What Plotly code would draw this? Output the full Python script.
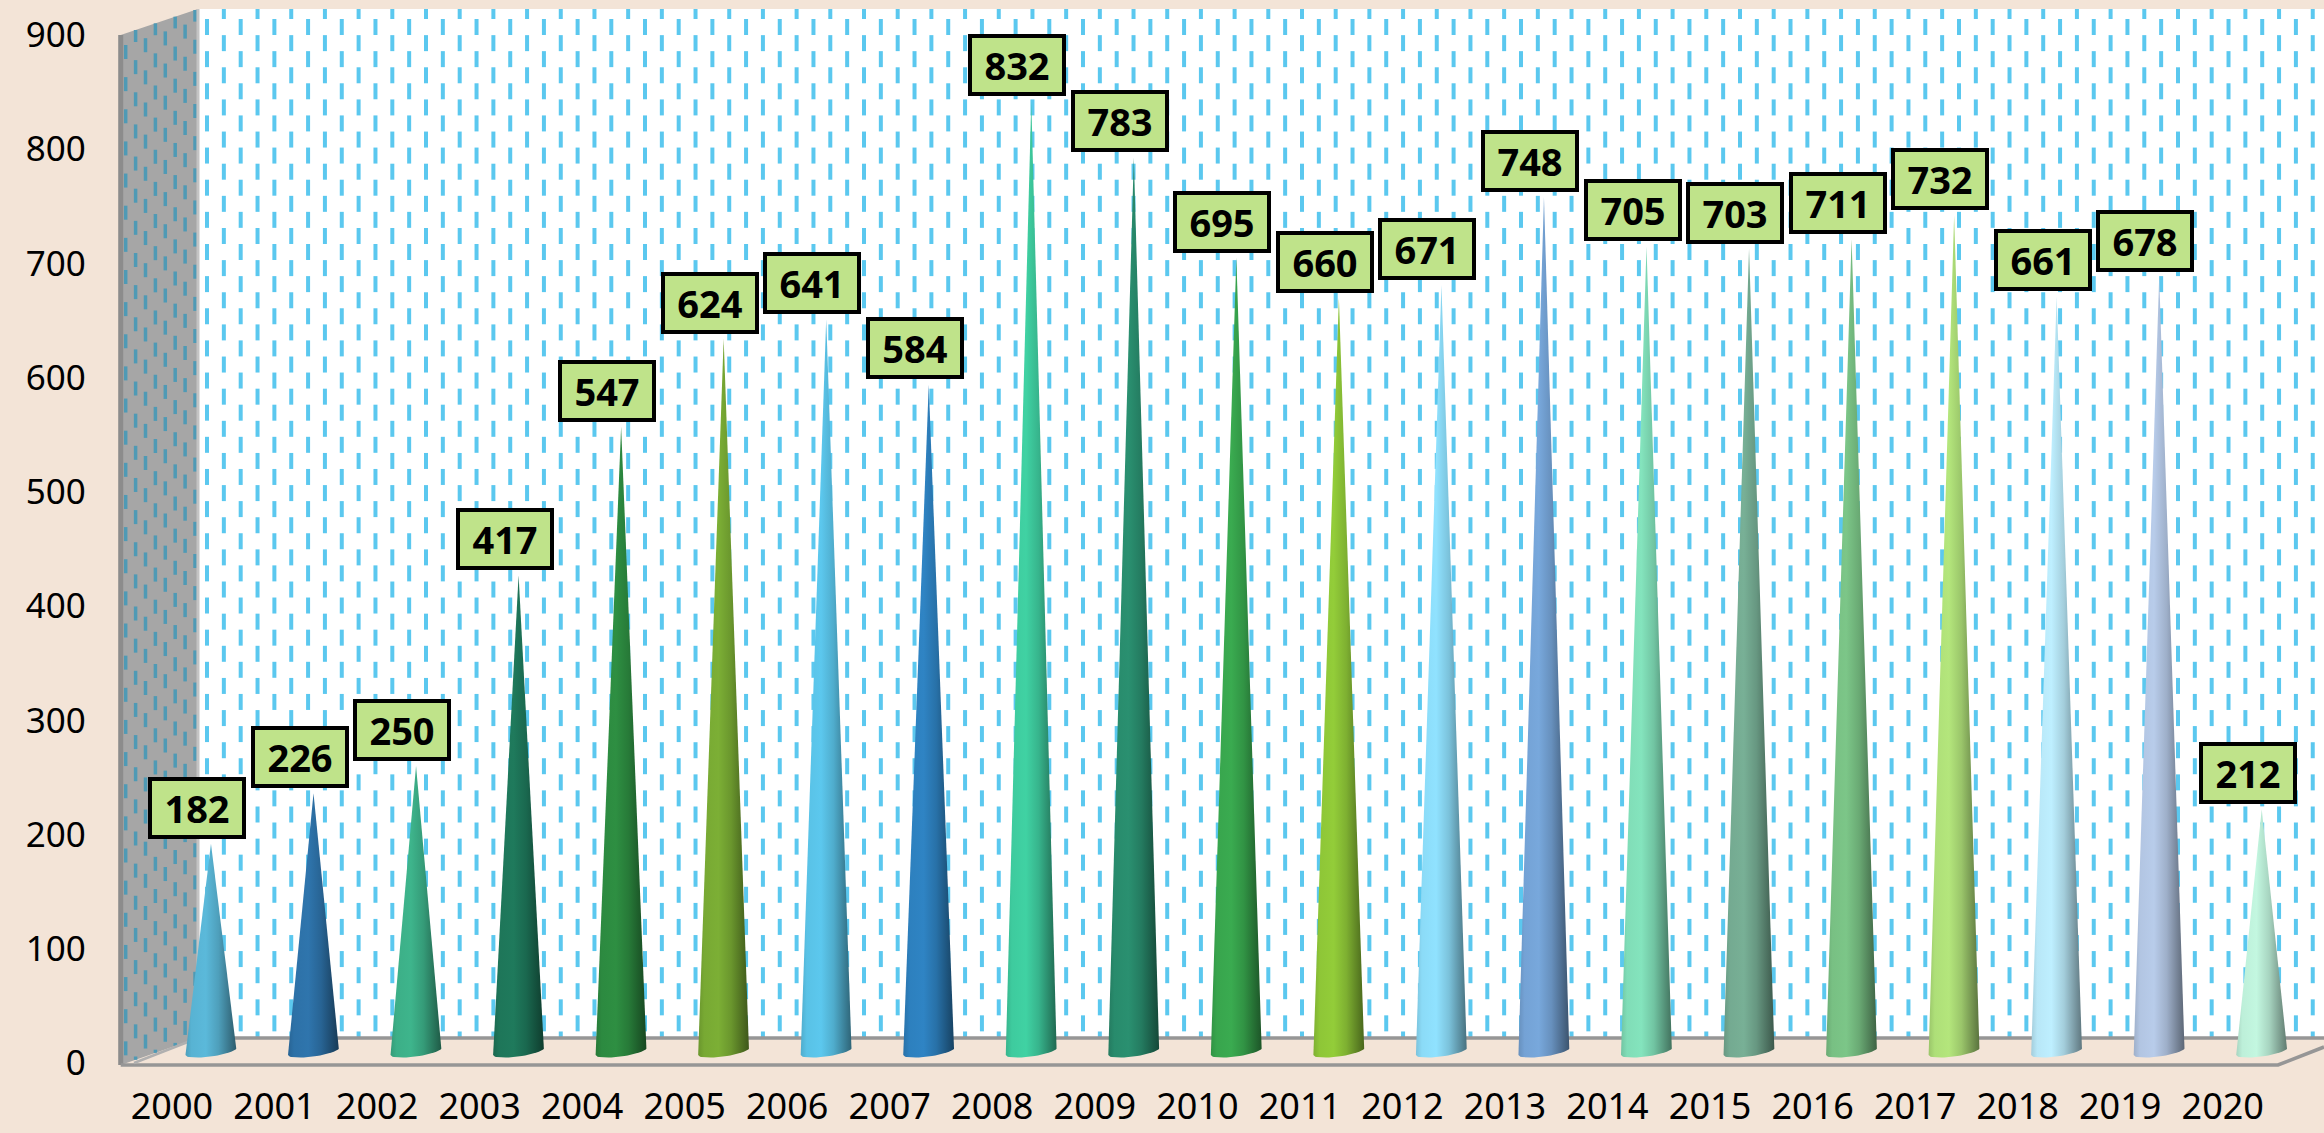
import numpy as np
import plotly.graph_objects as go

W, H = 2324, 1133

years = [str(y) for y in range(2000, 2021)]
values = [182, 226, 250, 417, 547, 624, 641, 584, 832, 783, 695, 660, 671, 748, 705, 703, 711, 732, 661, 678, 212]
cone_colors = ["#5BB9DA", "#2F75AD", "#3EB58C", "#1F7A5C", "#2E8F42", "#7CAF35", "#5CC8EE",
               "#2F84C4", "#40D2A3", "#2A9070", "#3AAB50", "#93CD39", "#90E2FF", "#78A8DC",
               "#84E4BD", "#78B096", "#7CC688", "#B4E67C", "#BEEFFF", "#B8CCEA", "#C3F7E0"]
y_ticks = list(range(0, 1000, 100))

BG = "#F3E4D7"
DASH_BACK = "#5BC8EF"
DASH_SIDE = "#4F9AB5"
WALL_SIDE = "#A6A6A6"
EDGE = "#969696"
LABEL_FILL = "#BFE38A"

# plot-box geometry, page pixels
FL, FR, FT, FB = 120.7, 2274.0, 35.0, 1063.0      # front plane
DX_MID, DY_MID = 39.0, 11.5                        # depth shift of the cones
BL, BT, BB = 198.0, 9.0, 1038.0                    # back wall

def dom_x(a, b): return [a / W, b / W]
def dom_y(t, b): return [1 - b / H, 1 - t / H]

def shade(hexc, f):
    r, g, b = int(hexc[1:3], 16), int(hexc[3:5], 16), int(hexc[5:7], 16)
    return f"rgb({int(r*f)},{int(g*f)},{int(b*f)})"

fig = go.Figure()

# ---- page-pixel subplot: walls and their dashed texture ----
def poly(xs, ys, color):
    fig.add_trace(go.Scatter(x=xs, y=ys, mode="lines", fill="toself", fillcolor=color,
                             line=dict(width=0), hoverinfo="skip", showlegend=False))

def edge(xs, ys, color=EDGE, width=3.5):
    fig.add_trace(go.Scatter(x=xs, y=ys, mode="lines", line=dict(color=color, width=width),
                             hoverinfo="skip", showlegend=False))

poly([BL, W, W, BL], [BT, BT, BB, BB], "#FFFFFF")
poly([FL, BL, BL, FL], [FT, BT, BB, FB + 2], WALL_SIDE)

# back wall texture
sx, sy = [], []
for k in range(0, 127):
    x = 207.0 + 16.846 * k
    phase = 27.0 if k % 2 == 0 else 11.0
    for j in range(-1, 34):
        c = phase + 32.14 * j
        a, b = max(c - 8, BT), min(c + 8, BB)
        if a < b and x < W:
            sx += [x, x, None]; sy += [a, b, None]
fig.add_trace(go.Scatter(x=sx, y=sy, mode="lines", line=dict(color=DASH_BACK, width=4),
                         hoverinfo="skip", showlegend=False))

# side wall texture
sx, sy = [], []
for i in range(8):
    x = 125.7 + 9.9 * i
    phase = (52.0 if i % 2 == 0 else 38.4) - 3.4 * i
    top = FT - (x - FL) * (FT - BT) / (BL - FL)
    bot = FB + 2 - (x - FL) * (FB + 2 - BB) / (BL - FL)
    for j in range(-2, 34):
        c = phase + 32.14 * j
        a, b = max(c - 7, top), min(c + 7, bot)
        if a < b:
            sx += [x, x, None]; sy += [a, b, None]
fig.add_trace(go.Scatter(x=sx, y=sy, mode="lines", line=dict(color=DASH_SIDE, width=3.5),
                         hoverinfo="skip", showlegend=False))

# frame edges
edge([BL, W], [BB, BB])
edge([BL, BL], [BT, BB], "#C4C4C4", 3)
edge([FL, FL], [FT, FB + 2], "#8C8C8C", 5)
edge([FL, 2278, W], [FB + 2, FB + 2, 1047])
edge([134, BL], [FB, BB], "#B0B0B0", 2.5)

# ---- cones, on the mid-depth plane ----
w = 0.2487                    # half base width, in categories
px_per_unit = (FB - FT) / 900.0
tilt = 3.5 / px_per_unit      # ellipse tilt, value units
minor = 5.0 / px_per_unit     # ellipse depth, value units
t = np.linspace(0, np.pi, 25)
for i, (val, col) in enumerate(zip(values, cone_colors)):
    xs = [i] + list(i + w * np.cos(t)) + [i]
    ys = [val] + list(tilt * np.cos(t) - minor * np.sin(t)) + [val]
    fig.add_trace(go.Scatter(
        x=xs, y=ys, xaxis="x3", yaxis="y3", mode="lines", fill="toself",
        line=dict(width=0),
        fillgradient=dict(type="horizontal", colorscale=[
            [0, shade(col, 0.86)], [0.12, shade(col, 0.97)], [0.4, col],
            [0.65, shade(col, 0.86)], [1, shade(col, 0.5)]]),
        name=years[i], hovertemplate=f"{years[i]}: {val}<extra></extra>", showlegend=False))

# data labels
annotations = [dict(x=i, y=v, xref="x3", yref="y3", text=f"<b>{v}</b>", showarrow=False,
                    xshift=-14, yshift=36, width=90, height=54, align="center", valign="middle",
                    bgcolor=LABEL_FILL, bordercolor="#000000", borderwidth=4, borderpad=0,
                    font=dict(family="Noto Sans", size=38, color="#000000"))
               for i, v in enumerate(values)]

# front-plane axes (hold the real categories/value scale)
fig.add_trace(go.Scatter(x=years, y=values, xaxis="x2", yaxis="y2", mode="markers",
                         marker=dict(opacity=0, size=1), hoverinfo="skip", showlegend=False))

y_range = [0, 900]
below = 30  # room under zero on the cone plane so the round bases are not clipped
fig.update_layout(
    width=W, height=H, margin=dict(l=0, r=0, t=0, b=0), autosize=False,
    paper_bgcolor=BG, plot_bgcolor="rgba(0,0,0,0)", showlegend=False,
    font=dict(family="Noto Sans", color="#000000"),
    xaxis=dict(domain=[0, 1], range=[0, W], visible=False, fixedrange=True, automargin=False),
    yaxis=dict(domain=[0, 1], range=[H, 0], visible=False, fixedrange=True, automargin=False),
    xaxis2=dict(domain=dom_x(FL, FR), anchor="y2", type="category", categoryorder="array",
                categoryarray=years, range=[-0.5, 20.5], showgrid=False, zeroline=False,
                showline=False, ticks="", tickfont=dict(size=36, color="#000000"),
                tickangle=0, ticklabelstandoff=19, fixedrange=True, automargin=False),
    yaxis2=dict(domain=dom_y(FT, FB), anchor="x2", range=y_range, tickvals=y_ticks,
                showgrid=False, zeroline=False, showline=False, ticks="",
                tickfont=dict(size=35, color="#000000"), ticklabelstandoff=34, fixedrange=True,
                automargin=False),
    xaxis3=dict(domain=dom_x(FL + DX_MID, FR + DX_MID), anchor="y3", range=[-0.5, 20.5],
                visible=False, fixedrange=True, automargin=False),
    yaxis3=dict(domain=dom_y(FT - DY_MID, FB - DY_MID + below * px_per_unit), anchor="x3",
                range=[-below, 900], visible=False, fixedrange=True, automargin=False),
    annotations=annotations,
)

fig.write_html("out.html", config=dict(displayModeBar=False),
               post_script="document.body.style.margin='0';document.body.style.background='%s';" % BG)
